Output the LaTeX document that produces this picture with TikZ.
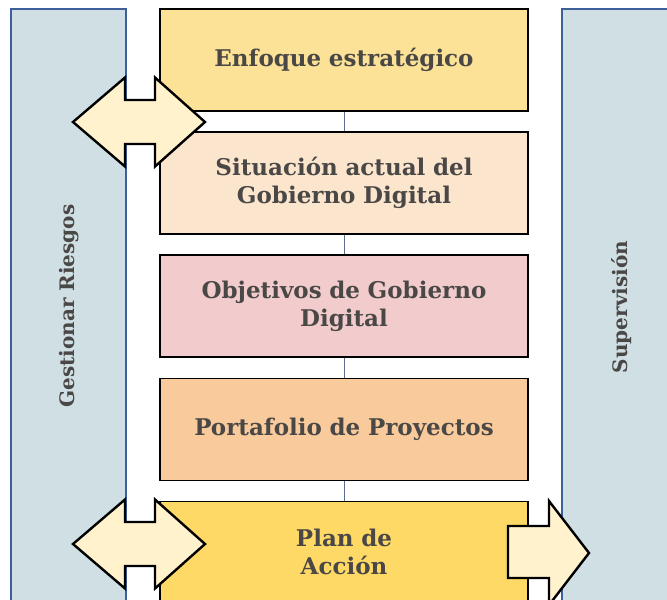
\documentclass[tikz,border=0pt]{standalone}
\usepackage{fontspec}
\setmainfont{DejaVu Serif}
\usetikzlibrary{positioning}
\definecolor{panelfill}{HTML}{D0DFE4}
\definecolor{paneledge}{HTML}{3D5F9A}
\definecolor{textgrey}{HTML}{4A4846}
\definecolor{enfoque}{HTML}{FCE296}
\definecolor{situacion}{HTML}{FCE5CD}
\definecolor{objetivos}{HTML}{F2CCCC}
\definecolor{portafolio}{HTML}{F9CB9C}
\definecolor{plan}{HTML}{FFD966}
\definecolor{arrowfill}{HTML}{FFF2CC}
\definecolor{linkline}{HTML}{5B6F8C}
\begin{document}
\begin{tikzpicture}[x=1pt, y=-1pt, node distance=19.5pt,
    stage/.style={draw=black, line width=1.6pt, minimum width=368pt, minimum height=102pt,
        text width=360pt, align=center, inner sep=0pt, text=textgrey,
        font=\bfseries\fontsize{23}{28}\selectfont},
    panel/.style={fill=panelfill, draw=paneledge, line width=1.2pt},
    sidelabel/.style={rotate=90, text=textgrey, font=\bfseries\fontsize{20}{24}\selectfont},
    bigarrow/.style={fill=arrowfill, draw=black, line width=2.4pt, line join=miter},
    link/.style={draw=linkline, line width=0.6pt}]
    \useasboundingbox (0,0) rectangle (667,600);
    \clip (0,0) rectangle (667,600);
    \draw[panel] (11,9) rectangle (126,640);
    \draw[panel] (562,9) rectangle (700,640);
    \node[sidelabel] (riesgos) at (69,306) {Gestionar Riesgos};
    \node[sidelabel] (supervision) at (622,307) {Supervisión};
    \node[stage, fill=enfoque] (enfoque) at (344,60) {Enfoque estratégico};
    \node[stage, fill=situacion, below=of enfoque] (situacion) {Situación actual del\\Gobierno Digital};
    \node[stage, fill=objetivos, below=of situacion] (objetivos) {Objetivos de Gobierno\\Digital};
    \node[stage, fill=portafolio, below=of objetivos] (portafolio) {Portafolio de Proyectos};
    \node[stage, fill=plan, below=of portafolio] (plan) {Plan de\\Acción};
    \draw[link] (enfoque) -- (situacion);
    \draw[link] (situacion) -- (objetivos);
    \draw[link] (objetivos) -- (portafolio);
    \draw[link] (portafolio) -- (plan);
    \foreach \ay in {122,544}
        \draw[bigarrow, shift={(0,\ay)}] (73,0) -- (125,-44.5) -- (125,-22) -- (155,-22) -- (155,-44.5)
            -- (205,0) -- (155,44.5) -- (155,22) -- (125,22) -- (125,44.5) -- cycle;
    \draw[bigarrow] (508,526) -- (549,526) -- (549,501) -- (589,553) -- (549,605) -- (549,578) -- (508,578) -- cycle;
\end{tikzpicture}
\end{document}
